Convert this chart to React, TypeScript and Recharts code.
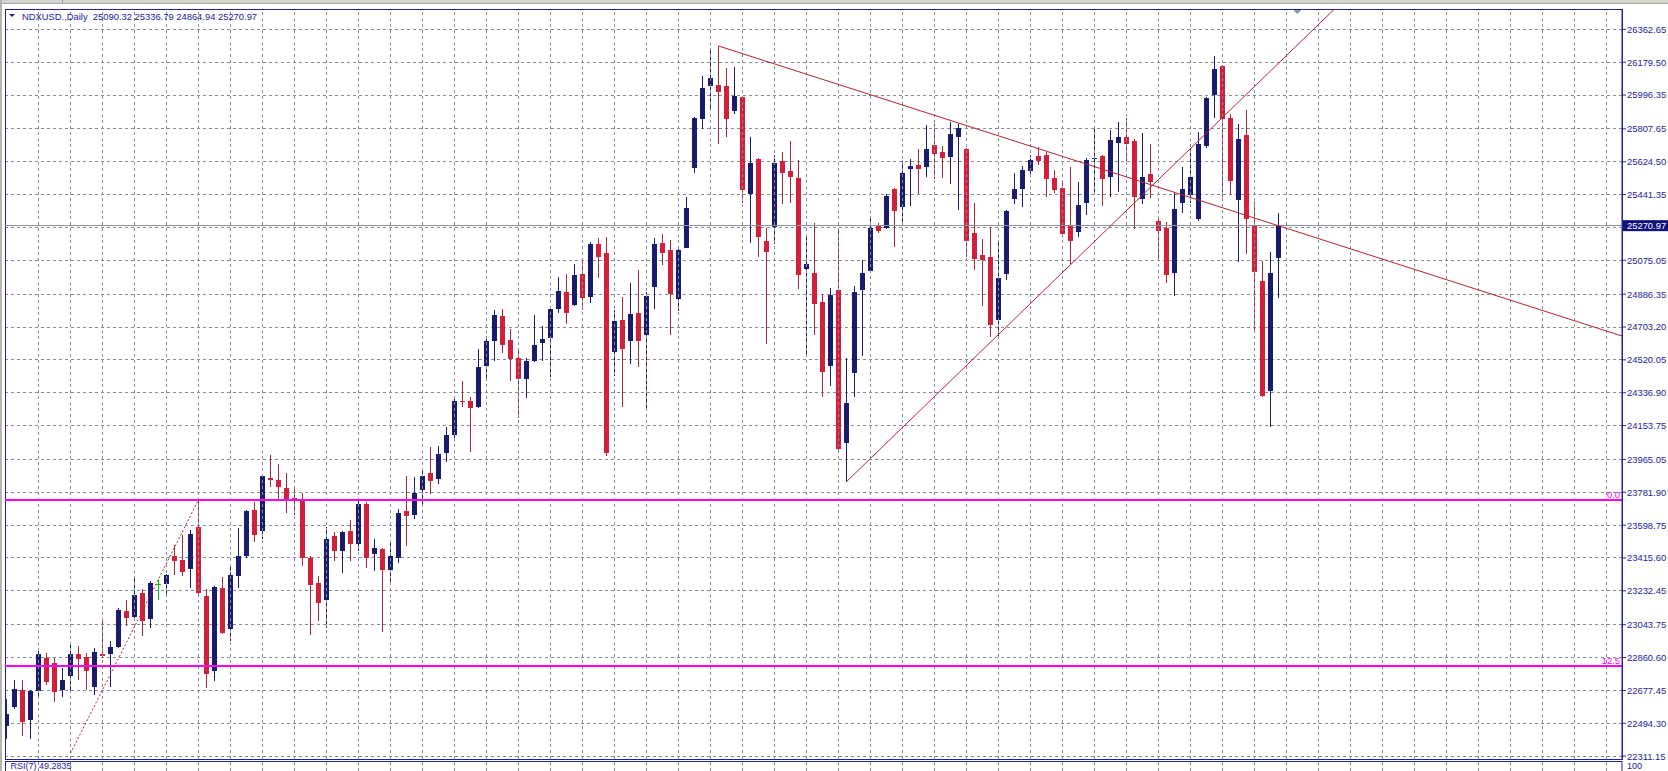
import React from 'react';
import {
  ComposedChart,
  Bar,
  XAxis,
  YAxis,
  CartesianGrid,
  ReferenceLine,
  ReferenceArea,
  ReferenceDot,
} from 'recharts';

// ---- Data (daily NDXUSD candles) ----
const opens = [
  22477, 22586, 22681, 22512, 22673, 22859, 22832, 22681, 22755, 22878,
  22864, 22695, 22881, 22881, 22919, 23118, 23085, 23219, 23077, 23268,
  23268, 23424, 23405, 23356, 23588, 23206, 22783, 23246, 23017, 23317,
  23427, 23683, 23568, 23863, 23850, 23806, 23751, 23738, 23418, 23276,
  23181, 23536, 23454, 23568, 23492, 23719, 23437, 23465, 23350, 23413,
  23678, 23656, 23792, 23888, 23855, 24000, 24101, 24292, 24292, 24256,
  24488, 24627, 24764, 24633, 24529, 24414, 24515, 24614, 24641, 24802,
  24900, 24824, 25001, 24873, 25165, 25118, 24564, 24742, 24627, 24783,
  24660, 24925, 25173, 25132, 24859, 25146, 25588, 25860, 26046, 26051,
  26046, 25910, 25983, 25446, 25642, 25184, 25260, 25629, 25574, 25533,
  25028, 25006, 24843, 24488, 24911, 24054, 24447, 24911, 25015, 25274,
  25255, 25473, 25375, 25582, 25609, 25596, 25716, 25678, 25650, 25760,
  25697, 25227, 25102, 25091, 24742, 25001, 25418, 25473, 25574, 25656,
  25661, 25533, 25478, 25274, 25233, 25397, 25639, 25656, 25539, 25729,
  25765, 25738, 25416, 25555, 25293, 25255, 25006, 25397, 25438, 25307,
  25710, 25997, 26161, 25869, 25410, 25773, 25274, 24960, 24346, 25090.32,
];
const highs = [
  22627, 22736, 22736, 22681, 22914, 22886, 22859, 22804, 22946, 22927,
  22886, 22914, 23072, 22955, 23137, 23181, 23301, 23241, 23290, 23296,
  23328, 23487, 23541, 23574, 23732, 23241, 23260, 23309, 23364, 23582,
  23683, 23727, 23882, 23989, 23937, 23890, 23819, 23779, 23427, 23315,
  23590, 23563, 23568, 23628, 23746, 23727, 23522, 23473, 23508, 23686,
  23874, 23869, 23910, 24032, 24038, 24147, 24311, 24401, 24311, 24578,
  24646, 24796, 24802, 24693, 24573, 24529, 24769, 24709, 24810, 24982,
  25001, 25056, 25083, 25178, 25200, 25206, 24796, 24873, 24946, 25020,
  24900, 25200, 25219, 25187, 25151, 25429, 25874, 26101, 26242, 26270,
  26147, 26152, 25990, 25765, 25648, 25255, 25664, 25678, 25738, 25634,
  25206, 25282, 24886, 24919, 25238, 24529, 24933, 25077, 25315, 25282,
  25443, 25478, 25629, 25642, 25697, 25828, 25833, 25710, 25847, 25833,
  25702, 25397, 25192, 25260, 25170, 25356, 25560, 25601, 25661, 25708,
  25678, 25579, 25506, 25593, 25511, 25648, 25806, 25661, 25800, 25847,
  25869, 25751, 25784, 25724, 25315, 25287, 25451, 25593, 25697, 25792,
  25983, 26215, 26166, 25893, 25833, 25915, 25402, 25069, 25124, 25336.79,
];
const lows = [
  22409, 22572, 22422, 22409, 22641, 22709, 22613, 22641, 22681, 22736,
  22681, 22654, 22859, 22695, 22914, 23036, 23077, 22982, 23023, 23181,
  23208, 23323, 23317, 23249, 23214, 22690, 22728, 22990, 22955, 23246,
  23418, 23506, 23519, 23814, 23732, 23664, 23658, 23372, 22987, 23064,
  23028, 23399, 23331, 23399, 23454, 23358, 23342, 23004, 23263, 23386,
  23481, 23631, 23705, 23773, 23828, 23950, 24065, 24256, 24005, 24251,
  24414, 24515, 24556, 24401, 24196, 24305, 24510, 24515, 24423, 24783,
  24720, 24818, 24796, 24837, 24974, 23983, 24428, 24256, 24496, 24483,
  24251, 24802, 25050, 24660, 24791, 25143, 25560, 25806, 25915, 25724,
  25760, 25893, 25397, 25173, 25091, 24611, 25165, 25388, 25397, 24914,
  24543, 24660, 24313, 24373, 24000, 23841, 24311, 24543, 25009, 25227,
  25247, 25151, 25274, 25378, 25446, 25539, 25528, 25533, 25500, 25356,
  25091, 25020, 24818, 24646, 24654, 24968, 25391, 25375, 25547, 25607,
  25429, 25451, 25211, 25056, 25206, 25328, 25457, 25378, 25429, 25457,
  25629, 25247, 25391, 25424, 25075, 24946, 24878, 25337, 25397, 25293,
  25702, 25866, 25429, 25438, 25064, 25110, 24682, 24311, 24147, 24864.94,
];
const closes = [
  22545, 22687, 22504, 22673, 22878, 22723, 22668, 22736, 22878, 22851,
  22783, 22892, 22867, 22919, 23124, 23083, 23208, 23064, 23276, 23268,
  23323, 23397, 23337, 23549, 23222, 22769, 23255, 22995, 23323, 23427,
  23678, 23541, 23874, 23850, 23809, 23732, 23732, 23413, 23263, 23167,
  23522, 23454, 23563, 23495, 23719, 23418, 23473, 23350, 23427, 23664,
  23650, 23779, 23874, 23847, 23997, 24101, 24292, 24283, 24251, 24483,
  24627, 24769, 24605, 24523, 24414, 24515, 24605, 24638, 24802, 24905,
  24783, 24993, 24865, 25165, 25091, 24000, 24734, 24578, 24777, 24627,
  24878, 25165, 25116, 24886, 25132, 25369, 25869, 26038, 26092, 26016,
  25860, 25989, 25465, 25620, 25206, 25124, 25620, 25560, 25539, 24993,
  25056, 24832, 24450, 24884, 24024, 24278, 24900, 25006, 25255, 25241,
  25432, 25350, 25560, 25601, 25582, 25697, 25669, 25648, 25779, 25811,
  25184, 25083, 25075, 24714, 24979, 25350, 25470, 25579, 25634, 25629,
  25528, 25465, 25219, 25184, 25383, 25637, 25645, 25528, 25743, 25765,
  25724, 25429, 25539, 25514, 25241, 24993, 25361, 25473, 25539, 25724,
  25978, 26139, 25860, 25519, 25751, 25307, 25009, 24319, 25006, 25270.97,
];

const priceTicks = [
  26362.65, 26179.5, 25996.35, 25807.65, 25624.5, 25441.35, 25258.2, 25075.05,
  24886.35, 24703.2, 24520.05, 24336.9, 24153.75, 23965.05, 23781.9, 23598.75,
  23415.6, 23232.45, 23043.75, 22860.6, 22677.45, 22494.3, 22311.15,
];
const hiddenTick = 25258.2;
const lastPrice = 25270.97;
const fibLevels = [
  { price: 23740, label: '0.0' },
  { price: 22812, label: '12.5' },
];
const downTrend = [{ x: 89, y: 26270 }, { x: 201.9375, y: 24653 }];
const upTrend = [{ x: 105, y: 23841 }, { x: 166, y: 26476 }];
const fibTrend = [{ x: 8, y: 22327 }, { x: 24, y: 23740 }];
const shiftMarkerBar = 161.35;

const symbolText = 'NDXUSD.,Daily';
const headerValues = [25090.32, 25336.79, 24864.94, 25270.97];
const rsiText = 'RSI(7) 49.2835';
const rsiTopLabel = '100';

const X_DOMAIN: [number, number] = [-0.1875, 201.9375];
const Y_DOMAIN: [number, number] = [22295, 26476];
const gridBars = Array.from({ length: 50 }, (_, k) => 4 + k * 4);

// ---- Styles ----
const FONT = "'Liberation Sans', Arial, sans-serif";
const AXIS = '#22229c';
const GRID = '#868c96';
const BULL = '#1b1b6e';
const BEAR = '#d21f3b';
const BEAR_WICK = '#a8283c';
const DOJI = '#00d000';
const TREND = '#b8232f';
const MAGENTA = '#ff00ff';

const candles = opens.map((o, i) => ({
  i,
  open: o,
  high: highs[i],
  low: lows[i],
  close: closes[i],
  range: [lows[i], highs[i]],
}));

const Candle = (props: any) => {
  const { x, y, width, height, payload } = props;
  if (!payload || height == null) return null;
  const { open, close, high, low } = payload;
  const cx = Math.floor(x + width / 2) + 0.5;
  const k = high === low ? 0 : height / (high - low);
  const py = (p: number) => y + (high - p) * k;
  const top = Math.round(py(Math.max(open, close)));
  const bot = Math.round(py(Math.min(open, close)));
  const doji = open === close;
  const bull = close > open;
  const wick = doji ? DOJI : bull ? BULL : BEAR_WICK;
  const body = doji ? DOJI : bull ? BULL : BEAR;
  return (
    <g>
      <line
        x1={cx}
        x2={cx}
        y1={Math.round(y)}
        y2={Math.round(y + height)}
        stroke={wick}
        strokeWidth={1}
        shapeRendering="crispEdges"
      />
      {doji ? (
        <line x1={cx - 2.5} x2={cx + 2.5} y1={top + 0.5} y2={top + 0.5} stroke={body} shapeRendering="crispEdges" />
      ) : (
        <rect
          x={cx - 2.5}
          y={top}
          width={5}
          height={Math.max(1, bot - top)}
          fill={body}
          shapeRendering="crispEdges"
        />
      )}
    </g>
  );
};

const PriceTick = (props: any) => {
  const { x, y, payload } = props;
  if (!payload || payload.value === hiddenTick) return <g />;
  return (
    <text x={x} y={y} dy={3.4} fill={AXIS} fontSize={9.4} fontFamily={FONT} textAnchor="start">
      {Number(payload.value).toFixed(2)}
    </text>
  );
};

const PriceTag = (props: any) => {
  const vb = props.viewBox || {};
  const x = (vb.x || 0) + (vb.width || 0);
  const y = vb.y || 0;
  return (
    <g>
      <rect x={x + 1} y={y - 5} width={46} height={11} fill="#10107e" />
      <text x={x + 5} y={y + 3.6} fill="#ffffff" fontSize={9.4} fontFamily={FONT}>
        {lastPrice.toFixed(2)}
      </text>
    </g>
  );
};

const ShiftMarker = (props: any) => {
  const { cx, cy } = props;
  if (cx == null || cy == null) return <g />;
  return <polygon points={`${cx - 4},${cy + 1} ${cx + 4},${cy + 1} ${cx},${cy + 5}`} fill="#8494ac" />;
};

export default function App() {
  return (
    <div
      style={{
        position: 'fixed',
        left: 0,
        top: 0,
        width: 1668,
        height: 771,
        background: '#ffffff',
        overflow: 'hidden',
      }}
    >
      <div style={{ position: 'absolute', left: 0, top: 0 }}>
        <ComposedChart
          width={1668}
          height={771}
          data={candles}
          margin={{ top: 9, right: 0, bottom: 12, left: 5 }}
        >
          <CartesianGrid vertical={false} stroke={GRID} strokeDasharray="3 3" shapeRendering="crispEdges" />
          <XAxis type="number" dataKey="i" domain={X_DOMAIN} hide allowDataOverflow />
          <YAxis
            type="number"
            orientation="right"
            width={46}
            domain={Y_DOMAIN}
            ticks={priceTicks}
            interval={0}
            allowDataOverflow
            tick={<PriceTick />}
            tickSize={4}
            tickMargin={1}
            tickLine={{ stroke: AXIS }}
            axisLine={{ stroke: AXIS }}
          />
          {gridBars.map((b) => (
            <ReferenceLine
              key={`g${b}`}
              x={b}
              stroke={GRID}
              strokeDasharray="3 3"
              shapeRendering="crispEdges"
            />
          ))}
          <ReferenceArea
            x1={X_DOMAIN[0]}
            x2={X_DOMAIN[1]}
            y1={Y_DOMAIN[0]}
            y2={Y_DOMAIN[1]}
            fill="none"
            fillOpacity={0}
            stroke={AXIS}
            strokeWidth={1}
            ifOverflow="visible"
            shapeRendering="crispEdges"
          />
          {fibLevels.map((f) => (
            <ReferenceLine
              key={f.label}
              y={f.price}
              stroke={MAGENTA}
              strokeWidth={2}
              shapeRendering="crispEdges"
              label={{
                value: f.label,
                position: 'insideBottomRight',
                offset: 2,
                fill: MAGENTA,
                fontSize: 9.4,
                fontFamily: FONT,
              }}
            />
          ))}
          <ReferenceLine y={lastPrice} stroke="#8c9098" strokeWidth={1} shapeRendering="crispEdges" label={(p: any) => <PriceTag {...p} />} />
          <ReferenceLine segment={fibTrend} stroke={TREND} strokeDasharray="2 2" ifOverflow="hidden" />
          <ReferenceLine segment={downTrend} stroke={TREND} strokeWidth={1} ifOverflow="hidden" />
          <ReferenceLine segment={upTrend} stroke={TREND} strokeWidth={1} ifOverflow="hidden" />
          <Bar dataKey="range" barSize={5} isAnimationActive={false} shape={(p: any) => <Candle {...p} />} />
          <ReferenceDot x={shiftMarkerBar} y={Y_DOMAIN[1]} ifOverflow="visible" shape={(p: any) => <ShiftMarker {...p} />} />
        </ComposedChart>
      </div>

      <div style={{ position: 'absolute', left: 0, top: 761 }}>
        <ComposedChart width={1668} height={10} data={candles} margin={{ top: 0, right: 0, bottom: 0, left: 5 }}>
          <XAxis type="number" dataKey="i" domain={X_DOMAIN} hide allowDataOverflow />
          <YAxis
            type="number"
            orientation="right"
            width={46}
            domain={[0, 100]}
            ticks={[]}
            tick={false}
            tickLine={false}
            axisLine={{ stroke: AXIS }}
            allowDataOverflow
          />
          {gridBars.map((b) => (
            <ReferenceLine key={`r${b}`} x={b} stroke={GRID} strokeDasharray="3 3" shapeRendering="crispEdges" />
          ))}
          <ReferenceLine y={100} stroke={AXIS} shapeRendering="crispEdges" />
          <ReferenceLine x={X_DOMAIN[0]} stroke={AXIS} shapeRendering="crispEdges" />
        </ComposedChart>
      </div>

      <svg
        width={1668}
        height={771}
        style={{ position: 'absolute', left: 0, top: 0, pointerEvents: 'none' }}
      >
        <rect x={0} y={0} width={1668} height={4} fill="#d6d3ce" />
        <line x1={0} x2={1668} y1={3.5} y2={3.5} stroke="#a9a9a9" />
        <line x1={62.5} x2={62.5} y1={0} y2={4} stroke="#9a9a9a" />
        <rect x={0} y={0} width={2} height={771} fill="#b4b4b4" />
        <polygon points="9,14 15,14 12,17" fill={AXIS} />
        <text x={22} y={19.6} fill={AXIS} fontSize={9.4} fontFamily={FONT} style={{ whiteSpace: 'pre' }}>
          {`${symbolText}  ${headerValues.map((v) => v.toFixed(2)).join(' ')}`}
        </text>
        <text x={10.5} y={768.5} fill={AXIS} fontSize={9} fontFamily={FONT}>
          {rsiText}
        </text>
        <text x={1627} y={769} fill={AXIS} fontSize={9} fontFamily={FONT}>
          {rsiTopLabel}
        </text>
      </svg>
    </div>
  );
}
